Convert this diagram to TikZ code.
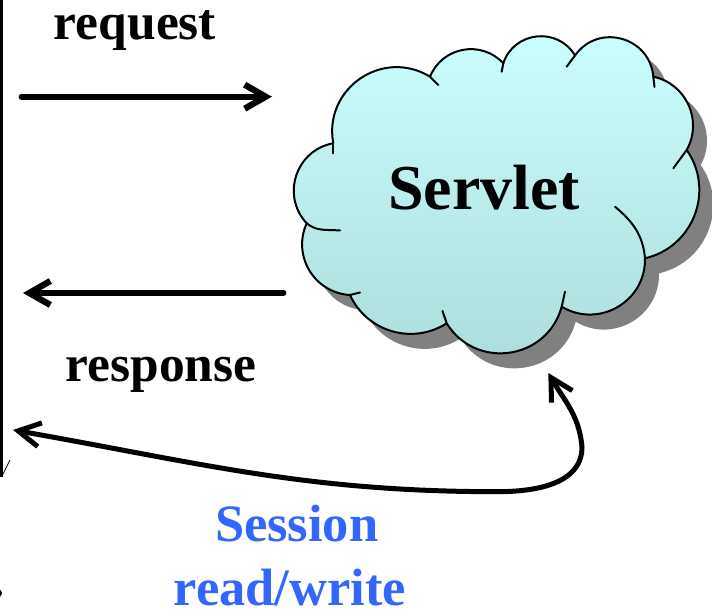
\documentclass[tikz,border=0pt]{standalone}
\usepackage{fontspec}
\setmainfont{Liberation Serif}
\usetikzlibrary{arrows.meta}
\definecolor{cloudtop}{RGB}{204,255,255}
\definecolor{cloudbottom}{RGB}{172,220,220}
\definecolor{cloudshade}{RGB}{128,128,128}
\definecolor{sessionblue}{RGB}{51,102,255}
% outline of the servlet cloud: eleven circular lobes, counter-clockwise
\newcommand\servletoutline{(333.3,467.7)
  to[bend right=61.5,looseness=1.15] (306.7,387.7)
  to[bend right=55.5,looseness=1.09] (350,316)
  to[bend right=49,looseness=1.03] (446.7,287.7)
  to[bend right=66.5,looseness=1.22] (561.7,304.3)
  to[bend right=61,looseness=1.15] (645,352.7)
  to[bend right=56,looseness=1.09] (686.7,461)
  to[bend right=53.5,looseness=1.07] (653.3,534.3)
  to[bend right=70,looseness=1.27] (575,555.5)
  to[bend right=65.5,looseness=1.2] (503.3,547.7)
  to[bend right=57.5,looseness=1.11] (430,534.3)
  to[bend right=66,looseness=1.21] (333.3,467.7) -- cycle}
\begin{document}
\begin{tikzpicture}[x=1pt,y=1pt,
  txt/.style={font=\bfseries\fontsize{51.5}{60}\selectfont, inner sep=0pt, anchor=base},
  flow/.style={line width=6.3pt, line cap=round, -{Straight Barb[length=21pt,width=24pt]}},
  twoway/.style={line width=5pt, line cap=round, {Straight Barb[length=22pt,width=24pt]}-{Straight Barb[length=22pt,width=24pt]}},
  tick/.style={line width=2pt, line cap=round}]
\useasboundingbox (0,0) rectangle (712,611);

% client side: vertical edge
\coordinate (edgetop) at (1.7,611);
\coordinate (edgebottom) at (1.7,134.3);
\draw[line width=3.3pt] (edgetop) -- (edgebottom);
\coordinate (slantA) at (10,151);
\coordinate (slantB) at (1.7,134.3);
\draw[line width=0.8pt] (slantA) -- (slantB);
\fill (-2,17.7) circle (4);

% cloud with drop shadow
\fill[cloudshade, shift={(14,-15)}] \servletoutline;
\path[draw, line width=2pt, line join=round, top color=cloudtop, bottom color=cloudbottom] \servletoutline;
% inner strokes where the lobes overlap
\draw[tick] (333.3,467.7) -- (333.3,457.7);
\draw[tick] (306.7,387.7) to[out=-40,in=175] (340,380.5);
\draw[tick] (350,316) -- (360,318.5);
\draw[tick] (446.7,287.7) -- (442.5,300);
\draw[tick] (561.7,304.3) -- (565,319.3);
\draw[tick] (645,352.7) to[out=95,in=-40] (615,404.3);
\draw[tick] (686.7,461) -- (673.3,442.7);
\draw[tick] (653.3,534.3) -- (654.5,524);
\draw[tick] (575,555.5) -- (566.7,544.3);
\draw[tick] (503.3,547.7) -- (501.7,539.3);
\draw[tick] (430,534.3) -- (438.3,526);
\node[font=\bfseries\fontsize{64}{70}\selectfont, inner sep=0pt, anchor=base] (servlet) at (484,401) {Servlet};

% request / response
\node[txt] (request) at (135,571) {request};
\coordinate (reqfrom) at (21.7,514.3);
\coordinate (reqto) at (272,514.3);
\draw[flow] (reqfrom) -- (reqto);

\coordinate (respfrom) at (283.3,318);
\coordinate (respto) at (23,318);
\draw[flow] (respfrom) -- (respto);
\node[txt] (response) at (161,229.5) {response};

% session access
\coordinate (sessleft) at (13,181);
\coordinate (sessbottom) at (497,119.3);
\coordinate (sessright) at (582,164);
\coordinate (sesstop) at (548.3,238);
\draw[twoway] (sessleft) to[out=-10,in=180] (sessbottom)
  to[out=0,in=-90] (sessright) to[out=95,in=-60] (sesstop);
\node[txt, text=sessionblue, font=\bfseries\fontsize{52.5}{60}\selectfont] (session) at (296.7,70) {Session};
\node[txt, text=sessionblue, font=\bfseries\fontsize{52.5}{60}\selectfont] (readwrite) at (290,6) {read/write};
\end{tikzpicture}
\end{document}
